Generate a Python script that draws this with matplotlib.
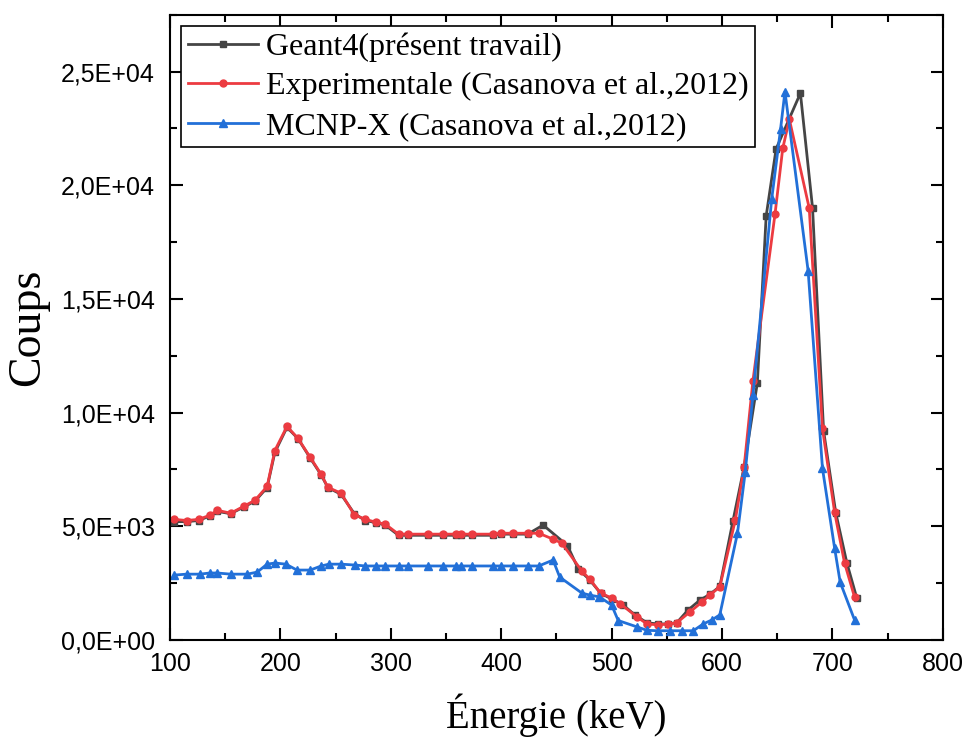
import matplotlib
matplotlib.use("Agg")
import matplotlib.pyplot as plt
from matplotlib.ticker import FuncFormatter, MultipleLocator

# Geant4 (présent travail)
e_geant4 = [104, 115, 126, 136, 143, 155, 167, 177, 188, 195, 206, 216, 227, 237,
            243, 255, 267, 277, 287, 295, 307, 316, 334, 347, 359, 364, 374, 393,
            400, 411, 424, 438, 460, 470, 480, 490, 500, 510, 521, 532, 542, 551,
            559, 569, 580, 589, 598, 610, 620, 632, 640, 649, 671, 682, 692, 703,
            713, 722]
c_geant4 = [5200, 5200, 5250, 5450, 5650, 5550, 5850, 6100, 6700, 8250, 9350, 8850,
            8000, 7250, 6700, 6400, 5550, 5250, 5150, 5050, 4600, 4600, 4600, 4600,
            4600, 4600, 4600, 4600, 4650, 4650, 4650, 5050, 4150, 3100, 2650, 2050,
            1800, 1550, 1100, 750, 700, 700, 750, 1300, 1750, 2000, 2350, 5250, 7600,
            11300, 18650, 21600, 24050, 19000, 9200, 5600, 3400, 1850]

# Experimentale (Casanova et al., 2012)
e_exp = [104, 115, 126, 136, 143, 155, 167, 177, 188, 195, 206, 216, 227, 237,
         243, 255, 267, 277, 287, 295, 307, 316, 334, 347, 359, 364, 374, 393,
         400, 411, 424, 434, 447, 455, 473, 480, 490, 500, 508, 523, 532, 542,
         551, 559, 571, 582, 589, 598, 612, 620, 628, 648, 655, 661, 679, 691,
         702, 711, 720]
c_exp = [5300, 5250, 5300, 5480, 5700, 5570, 5880, 6140, 6750, 8330, 9390, 8860,
         8030, 7280, 6710, 6450, 5500, 5300, 5170, 5090, 4650, 4650, 4650, 4650,
         4650, 4650, 4650, 4650, 4690, 4690, 4690, 4690, 4430, 4250, 3030, 2680,
         2060, 1840, 1580, 1010, 700, 660, 700, 750, 1230, 1670, 1970, 2330, 5260,
         7590, 11400, 18730, 21620, 22900, 18990, 9300, 5610, 3380, 1890]

# MCNP-X (Casanova et al., 2012)
e_mcnp = [104, 115, 127, 136, 143, 155, 170, 179, 188, 195, 205, 215, 227, 237,
          244, 255, 268, 277, 287, 295, 307, 316, 334, 347, 359, 364, 374, 393,
          400, 411, 424, 434, 447, 453, 473, 480, 489, 500, 506, 523, 532, 542,
          553, 564, 574, 583, 591, 598, 614, 621, 628, 645, 653, 657, 678, 691,
          702, 707, 720]
c_mcnp = [2850, 2890, 2890, 2940, 2940, 2890, 2890, 2980, 3330, 3380, 3330, 3070,
          3070, 3250, 3330, 3330, 3290, 3250, 3250, 3250, 3250, 3250, 3250, 3250,
          3250, 3250, 3250, 3250, 3250, 3250, 3250, 3250, 3510, 2760, 2060, 1970,
          1890, 1530, 850, 570, 420, 400, 400, 400, 400, 700, 880, 1100, 4690,
          7370, 10750, 19390, 22460, 24120, 16230, 7540, 4030, 2540, 880]

plt.rcParams['font.family'] = ['Liberation Sans', 'DejaVu Sans']
serif = ['Liberation Serif', 'DejaVu Serif']

fig = plt.figure(figsize=(9.74, 7.38), dpi=100)
ax = fig.add_axes([0.1745, 0.133, 0.7935, 0.847])

ax.plot(e_geant4, c_geant4, color='#454545', marker='s', markersize=5,
        linewidth=2, label='Geant4(présent travail)')
ax.plot(e_exp, c_exp, color='#ec3b41', marker='o', markersize=5,
        linewidth=2, label='Experimentale (Casanova et al.,2012)')
ax.plot(e_mcnp, c_mcnp, color='#2270d8', marker='^', markersize=6,
        linewidth=2, label='MCNP-X (Casanova et al.,2012)')

ax.set_xlim(100, 800)
ax.set_ylim(0, 27500)
ax.xaxis.set_major_locator(MultipleLocator(100))
ax.xaxis.set_minor_locator(MultipleLocator(50))
ax.yaxis.set_major_locator(MultipleLocator(5000))
ax.yaxis.set_minor_locator(MultipleLocator(2500))
ax.yaxis.set_major_formatter(FuncFormatter(lambda v, p: f"{v:.1E}".replace('.', ',')))

ax.tick_params(which='both', direction='in', top=True, right=True, labelsize=18)
ax.tick_params(which='major', length=9, width=1.5)
ax.tick_params(which='minor', length=5, width=1.5)
ax.tick_params(axis='x', pad=9)
ax.tick_params(axis='y', pad=11)
for s in ax.spines.values():
    s.set_linewidth(1.5)

ax.set_xlabel('Énergie (keV)', fontsize=28, family=serif, labelpad=12)
ax.set_ylabel('Coups', fontsize=33, family=serif, labelpad=8)

leg = ax.legend(loc='upper left', prop={'family': serif, 'size': 23},
                fancybox=False, edgecolor='black', framealpha=1,
                handlelength=2.2, handletextpad=0.25, borderpad=0.2,
                labelspacing=0.32, borderaxespad=0.35)
leg.get_frame().set_linewidth(1.2)

fig.savefig('out.png', dpi=100)
